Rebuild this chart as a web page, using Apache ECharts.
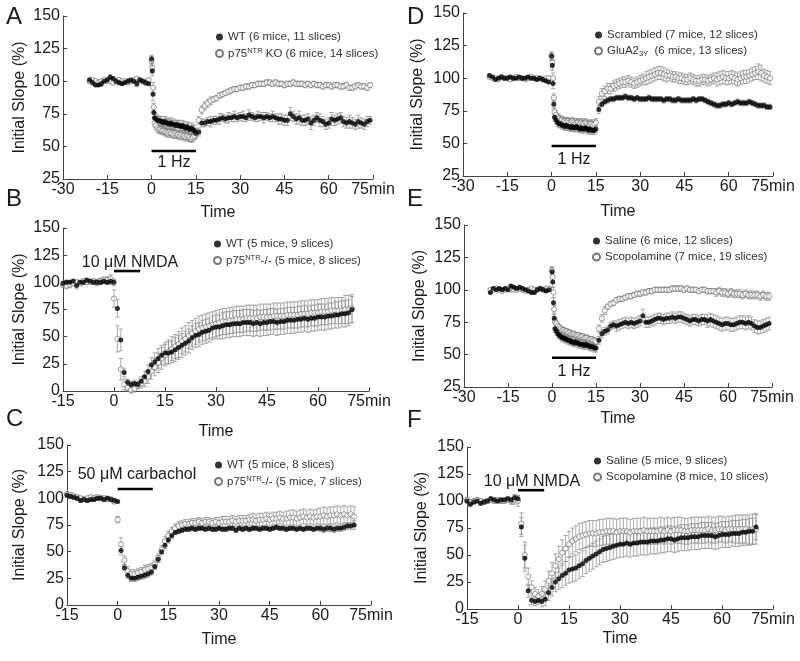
<!DOCTYPE html>
<html><head><meta charset="utf-8">
<script src="https://cdn.jsdelivr.net/npm/echarts@6/dist/echarts.min.js"></script>
<style>html,body{margin:0;padding:0;background:#fff}#c{width:800px;height:661px}</style>
</head><body><div id="c"></div><script>
// ---------- time axes (min) ----------
const tLFS = [-21,-20,-19,-18,-17,-16,-15,-14,-13,-12,-11,-10,-9,-8,-7,-6,-5,-4,-3,-2,-1,
 0,0.25,0.5,0.75,
 1,1.5,2,2.5,3,3.5,4,4.5,5,5.5,6,6.5,7,7.5,8,8.5,9,9.5,10,10.5,11,11.5,12,12.5,13,13.5,14,14.5,15,
 16,17,18,19,20,21,22,23,24,25,26,27,28,29,30,31,32,33,34,35,36,37,38,39,40,41,42,43,44,45,
 46,47,48,49,50,51,52,53,54,55,56,57,58,59,60,61,62,63,64,65,66,67,68,69,70,71,72,73,74];
const tDrug = [-15,-14,-13,-12,-11,-10,-9,-8,-7,-6,-5,-4,-3,-2,-1,
 0,1,2,3,4,5,6,7,8,9,10,11,12,13,14,15,16,17,18,19,20,21,22,23,24,25,26,27,28,29,30,
 31,32,33,34,35,36,37,38,39,40,41,42,43,44,45,46,47,48,49,50,51,52,53,54,55,56,57,58,59,60,
 61,62,63,64,65,66,67,68,69,70];

// ---------- Panel A ----------
const A_wt = [101,99,97,97,98,100,101,103,102,100,99,98,99,100,101,100,98,101,100,99,98,
 117,108,90,76,
 72,71,70,70,69,69,68,69,68,68,67,68,67,67,66,67,66,66,65,66,65,64,65,64,63,64,63,62,60,
 61,68,68,69,69,70,70,71,72,71, 72,72,73,72,73,73,72,74,73,72, 73,73,72,73,72,73,72,71,71,70,
 70,75,73,71,72,70,70,71,68,70, 72,70,69,67,68,71,70,71,72,69, 68,69,68,67,69,68,67,69,70];
const A_wt_e = [2,2,1,1,2,1,2,2,1,1,2,1,1,2,1,1,2,1,1,2,1,
 3,4,5,4,
 4,4,4,3,4,4,3,4,4,3,4,4,3,4,4,3,4,4,3,4,4,3,4,4,3,4,4,4,4,
 3,3,3,3,4,3,3,4,3,3, 4,3,4,3,3,4,3,4,3,3, 4,3,4,3,3,4,3,4,4,4,
 4,5,4,4,5,4,4,4,5,4, 4,5,4,4,4,5,4,4,4,4, 4,5,4,4,5,4,4,4,3];
const A_ko = [100,101,100,99,100,101,100,100,99,100,101,100,100,99,100,101,102,101,100,99,101,
 116,110,95,80,
 68,66,64,63,63,62,62,61,61,60,61,60,60,59,60,59,59,58,59,58,58,57,58,57,57,56,57,58,60,
 70,78,81,83,85,86,87,89,90,91, 92,93,94,94,95,95,96,96,97,97, 98,98,98,99,99,98,99,98,98,97,
 98,98,99,98,98,98,97,98,97,98, 97,97,96,97,97,96,97,97,96,96, 97,95,95,96,97,96,96,95,97];
const A_ko_e = [1,1,1,1,1,1,1,1,1,1,1,1,1,1,1,1,1,1,1,1,1,
 3,4,4,3,
 3,3,3,3,3,3,3,3,3,3,3,3,3,3,3,3,3,3,3,3,3,3,3,3,3,3,3,3,3,
 3,3,3,3,3,2,2,2,2,2, 2,2,2,2,2,2,2,2,2,2, 2,2,2,2,2,2,2,2,2,2,
 2,2,2,2,2,2,2,2,2,2, 2,2,2,2,2,2,2,2,2,2, 2,2,2,2,2,2,2,2,2];

// ---------- Panel D ----------
const D_scr = [102,101,99,100,101,100,100,101,100,100,101,100,100,101,100,100,99,100,99,98,97,
 117,110,96,80,
 70,68,66,65,65,64,64,63,64,63,63,62,63,62,62,63,62,61,62,61,61,62,61,60,61,60,60,60,61,
 76,80,82,83,84,84,85,85,85,86, 85,85,84,85,84,84,84,85,84,84, 84,84,83,84,84,83,83,84,83,83,
 83,83,84,83,84,84,83,82,81,80, 79,79,80,80,81,80,81,82,81,81, 81,82,81,80,79,79,79,78,78];
const D_scr_e = [1,1,1,1,1,1,1,1,1,1,1,1,1,1,1,1,1,1,1,1,1,
 3,4,4,3,
 3,3,3,3,3,3,3,3,3,3,3,3,3,3,3,3,3,3,3,3,3,3,3,3,3,3,3,3,3,
 3,2,2,2,2,2,2,2,2,2, 2,2,2,2,2,2,2,2,2,2, 2,2,2,2,2,2,2,2,2,2,
 2,2,2,2,2,2,2,2,2,2, 2,2,2,2,2,2,2,2,2,2, 2,2,2,2,2,2,2,2,2];
const D_glu = [101,100,100,99,101,100,100,99,100,101,100,100,99,100,101,100,100,100,99,100,100,
 117,112,100,85,
 74,72,70,69,68,68,67,67,66,67,66,66,67,66,65,66,66,65,66,65,65,66,65,64,65,65,64,65,66,
 82,88,90,92,92,94,95,96,97,97, 98,97,96,97,98,99,100,101,102,103, 104,104,103,102,102,101,101,100,100,99,
 99,100,99,98,98,99,99,98,99,100, 99,100,101,100,100,101,100,99,100,101, 101,102,103,104,105,104,102,101,100];
const D_glu_e = [1,1,1,1,1,1,1,1,1,1,1,1,1,1,1,1,1,1,1,1,1,
 3,4,4,3,
 3,3,3,3,3,3,3,3,3,3,3,3,3,3,3,3,3,3,3,3,3,3,3,3,3,3,3,3,3,
 4,4,4,4,4,4,4,4,4,4, 4,4,4,4,4,4,5,5,5,5, 5,5,5,5,4,4,4,4,4,4,
 4,4,4,4,4,4,4,4,4,4, 5,5,5,5,5,5,5,5,5,5, 5,5,5,5,6,6,5,5,5];

// ---------- Panel E ----------
const E_sal = [98,101,100,101,100,101,100,103,102,101,102,101,100,99,98,98,100,101,100,99,100,
 114,106,90,78,
 70,68,66,65,64,63,63,62,62,61,61,60,60,59,60,59,59,58,58,58,57,58,57,57,56,56,56,55,55,
 61,66,68,69,72,73,72,73,74,75, 74,75,74,75,76,80,75,75,76,77, 78,78,77,78,78,79,78,79,79,78,
 77,76,77,77,76,77,77,76,77,76, 75,74,73,74,74,73,73,74,75,75, 74,75,74,72,71,71,72,73,74];
const E_sal_e = [1,1,1,1,1,1,1,1,1,1,1,1,1,1,1,1,1,1,1,1,1,
 3,4,4,3,
 3,3,3,3,3,3,3,3,3,3,3,3,3,3,3,3,3,3,3,3,3,3,3,3,3,3,3,3,3,
 3,3,3,3,3,3,4,4,4,4, 4,4,4,4,4,5,4,4,4,4, 4,4,4,4,4,4,4,4,4,4,
 4,4,4,4,4,4,4,5,5,5, 5,5,5,5,5,5,5,5,5,5, 5,5,5,5,5,5,5,5,5];
const E_sco = [100,100,101,100,99,100,101,100,100,100,101,100,99,100,101,100,100,101,100,101,101,
 115,110,98,85,
 76,74,72,71,70,69,69,68,68,67,67,66,66,66,65,65,65,64,64,64,63,63,63,62,62,62,61,61,60,
 70,78,84,87,89,90,92,93,93,94, 95,95,96,97,97,98,98,99,99,100, 100,100,100,100,100,101,101,101,101,100,
 101,100,100,100,99,100,100,99,99,99, 98,99,98,98,97,98,97,97,97,96, 97,96,96,96,96,95,96,95,95];
const E_sco_e = [1,1,1,1,1,1,1,1,1,1,1,1,1,1,1,1,1,1,1,1,1,
 3,4,4,3,
 2,2,2,2,2,2,2,2,2,2,2,2,2,2,2,2,2,2,2,2,2,2,2,2,2,2,2,2,2,
 3,3,3,2,2,2,2,2,2,2, 2,2,2,2,2,2,2,2,2,2, 2,2,2,2,2,2,2,2,2,2,
 2,2,2,2,2,2,2,2,2,2, 3,3,3,3,3,3,3,3,3,3, 3,3,3,3,3,3,3,3,3];

// ---------- Panel B ----------
const B_wt = [99,100,100,101,97,100,100,102,101,100,100,100,101,100,101,
 100,76,47,17,8,6,7,6,9,13, 18,24,27,30,33,35,35,36,38,40, 42,44,46,49,51,52,54,55,56,58,
 59,59,60,61,61,62,62,62,63,63, 63,62,63,62,63,63,64,64,63,64, 64,65,65,65,66,66,67,66,67,67,
 68,68,68,69,69,70,70,71,71,72, 75];
const B_wt_e = [2,2,2,2,3,2,2,2,2,2,2,2,2,2,3,
 3,8,10,4,3,3,3,3,4,5, 6,7,8,9,9,10,10,10,11,11, 11,11,11,11,11,11,11,11,11,11,
 11,11,12,12,12,12,12,12,12,12, 12,12,12,12,12,12,12,12,12,12, 12,12,12,12,12,12,12,12,12,12,
 12,12,12,12,12,12,12,12,12,12, 12];
const B_ko = [98,97,98,99,100,99,101,100,100,101,100,101,102,102,103,
 85,48,20,6,3,1,2,5,7,9, 13,18,22,26,30,33,36,39,41,43, 46,48,51,53,55,57,58,59,60,61,
 62,63,64,64,65,65,66,66,66,67, 67,67,67,68,68,68,68,69,69,69, 69,70,70,70,70,71,71,71,72,72,
 72,73,73,73,74,74,74,74,75,75, 76];
const B_ko_e = [3,3,3,2,2,2,2,2,2,2,3,3,3,3,4,
 8,12,10,5,3,3,3,3,4,5, 6,7,8,9,10,10,11,11,11,12, 12,12,12,12,12,12,12,12,12,12,
 12,12,12,12,12,12,12,12,12,12, 12,12,12,12,12,12,12,12,12,12, 12,12,12,12,12,12,12,12,12,12,
 12,12,12,12,12,12,12,12,13,13, 13];

// ---------- Panel C ----------
const C_wt = [103,102,101,100,98,99,98,99,99,100,100,99,100,99,98,
 97,51,35,28,25,25,26,27,28,29, 31,36,43,50,56,61,65,68,69,70, 71,71,72,71,72,72,71,72,71,71,
 72,71,71,72,72,70,72,71,72,71, 72,72,71,72,72,71,72,73,72,72, 71,72,72,71,72,71,72,72,71,72,
 72,71,72,72,71,72,72,73,74,74, 75];
const C_wt_e = [2,2,2,2,2,2,2,2,2,2,2,2,2,2,2,
 1,4,3,3,3,3,3,3,3,3, 3,3,3,3,3,3,3,2,2,2, 2,2,2,2,2,2,2,2,2,2,
 2,2,2,2,2,2,2,2,2,2, 2,2,2,2,2,2,2,2,2,2, 2,2,2,2,2,2,2,2,2,2,
 3,3,3,3,3,3,3,3,3,3, 4];
const C_ko = [104,103,102,101,100,99,100,101,100,101,100,100,99,99,97,
 80,57,42,32,29,29,30,31,33,34, 35,38,44,52,60,65,69,72,74,75, 76,76,77,77,78,77,78,78,77,78,
 77,78,78,78,79,78,79,79,79,80, 80,79,80,80,81,80,81,81,82,81, 81,82,82,81,82,83,82,83,82,83,
 83,84,83,84,84,85,84,85,84,85, 83];
const C_ko_e = [2,2,2,2,2,2,2,2,2,2,2,2,2,2,2,
 3,6,4,4,4,4,4,4,4,4, 4,4,4,4,4,4,4,4,4,4, 4,4,4,4,4,4,4,4,4,4,
 5,5,5,5,5,5,5,5,5,5, 6,6,6,6,6,6,6,6,6,6, 7,7,7,7,7,7,7,7,7,7,
 8,8,8,8,8,8,8,8,8,8, 9];

// ---------- Panel F ----------
const F_sal = [100,97,99,100,98,99,100,102,101,100,101,101,102,101,103,
 102,76,47,17,8,7,8,7,9,15, 20,25,28,31,33,36,37,38,40,42, 45,47,49,51,53,55,56,57,58,59,
 60,60,61,60,61,61,62,62,62,63, 63,63,64,64,65,65,64,65,66,66, 66,67,67,67,68,68,68,68,67,68,
 69,69,69,70,70,70,71,71,72,72, 76];
const F_sal_e = [2,2,2,2,2,2,2,2,2,2,2,2,2,2,3,
 3,9,12,6,4,4,4,5,6,7, 8,9,10,11,11,12,12,12,12,12, 12,12,12,12,12,12,12,12,12,12,
 12,12,12,12,12,12,12,12,12,12, 12,12,12,12,12,12,12,12,12,12, 12,12,12,12,12,12,12,12,12,12,
 12,12,12,12,12,12,12,12,12,12, 12];
const F_sco = [101,99,100,101,100,99,100,101,100,101,100,100,101,100,101,
 100,79,50,30,20,14,12,14,18,26, 33,40,46,52,56,60,63,65,67,68, 69,70,70,70,71,71,72,72,72,71,
 72,72,72,71,72,72,72,73,72,72, 72,72,73,72,73,72,73,73,73,72, 72,73,73,73,73,73,74,73,73,74,
 74,73,74,74,74,74,74,74,73,74, 74];
const F_sco_e = [2,2,2,2,2,2,2,2,2,2,2,2,2,3,4,
 5,10,12,8,6,6,6,7,8,9, 10,11,12,12,12,12,12,12,12,12, 12,12,12,12,12,12,12,12,12,12,
 12,12,12,12,12,12,12,12,12,12, 12,12,12,12,12,12,12,12,12,12, 12,12,12,12,12,12,12,12,12,12,
 12,12,12,12,13,13,13,13,14,14, 14];

// ---------- names ----------
const A_names = ['WT (6 mice, 11 slices)', 'p75NTR KO (6 mice, 14 slices)'];
const B_names = ['WT (5 mice, 9 slices)', 'p75NTR-/- (5 mice, 8 slices)'];
const C_names = ['WT (5 mice, 8 slices)', 'p75NTR-/- (5 mice, 7 slices)'];
const D_names = ['Scrambled (7 mice, 12 slices)', 'GluA23Y  (6 mice, 13 slices)'];
const E_names = ['Saline (6 mice, 12 slices)', 'Scopolamine (7 mice, 19 slices)'];
const F_names = ['Saline (5 mice, 9 slices)', 'Scopolamine (8 mice, 10 slices)'];

const FONT = '"Liberation Sans", Arial, sans-serif';
const TXT = '#1a1a1a';
const AX = '#444';

const panels = [
 {L:'A', g:[63,16,310,163], xmin:-30, ymin:25, t:tLFS, s:[[A_wt,A_wt_e],[A_ko,A_ko_e]], n:A_names,
  yg:35, xg:26, lg:[210,26], lt:[15,17], bar:[0,15,46.5], bt:'1 Hz', btp:[174,163]},
 {L:'B', g:[63,228,306,163], xmin:-15, ymin:0, t:tDrug, s:[[B_wt,B_wt_e],[B_ko,B_ko_e]], n:B_names,
  yg:35, xg:33, lg:[208,233], lt:[15,199], bar:[0,7.7,110.4], bt:'10 \u03bcM NMDA', btp:[130,263]},
 {L:'C', g:[67,445,304,160], xmin:-15, ymin:0, t:tDrug, s:[[C_wt,C_wt_e],[C_ko,C_ko_e]], n:C_names,
  yg:39, xg:27, lg:[209,454], lt:[15,419], bar:[0,10.4,108.75], bt:'50 \u03bcM carbachol', btp:[137,475]},
 {L:'D', g:[463,13,310,163], xmin:-30, ymin:25, t:tLFS, s:[[D_scr,D_scr_e],[D_glu,D_glu_e]], n:D_names,
  yg:37, xg:28, lg:[589,24], lt:[416,17], bar:[0,15,48], bt:'1 Hz', btp:[574,160]},
 {L:'E', g:[464,225,308,162], xmin:-30, ymin:25, t:tLFS, s:[[E_sal,E_sal_e],[E_sco,E_sco_e]], n:E_names,
  yg:36, xg:24, lg:[587,230], lt:[416,199], bar:[0,15,47.6], bt:'1 Hz', btp:[574,372]},
 {L:'F', g:[467,447,306,162], xmin:-15, ymin:0, t:tDrug, s:[[F_sal,F_sal_e],[F_sco,F_sco_e]], n:F_names,
  yg:37, xg:22, lg:[588,450], lt:[416,420], bar:[0,7.7,110], bt:'10 \u03bcM NMDA', btp:[532,482]}
];

function errRender(params, api){
  const x = api.value(0), y = api.value(1), e = api.value(2);
  const hi = api.coord([x, y + e]), lo = api.coord([x, y - e]);
  const cx = hi[0], w = 2.2;
  const st = {stroke:'#8a8a8a', lineWidth:0.7};
  return {type:'group', children:[
    {type:'line', shape:{x1:cx, y1:hi[1], x2:cx, y2:lo[1]}, style:st},
    {type:'line', shape:{x1:cx-w, y1:hi[1], x2:cx+w, y2:hi[1]}, style:st},
    {type:'line', shape:{x1:cx-w, y1:lo[1], x2:cx+w, y2:lo[1]}, style:st}
  ]};
}
function barRender(params, api){
  const a = api.coord([api.value(0), api.value(2)]);
  const b = api.coord([api.value(1), api.value(2)]);
  return {type:'line', shape:{x1:a[0], y1:a[1], x2:b[0], y2:b[1]}, style:{stroke:'#000', lineWidth:2.6}};
}
function legendFmt(name){
  if (name.indexOf('p75NTR') === 0) return '{n|p75}{sup|NTR}{n|' + name.slice(6) + '}';
  if (name.indexOf('GluA23Y') === 0) return '{n|GluA2}{sub|3Y}{n|' + name.slice(7) + '}';
  return '{n|' + name + '}';
}

const option = {animation:false, backgroundColor:'#fff', grid:[], xAxis:[], yAxis:[], series:[], legend:[], graphic:[]};

panels.forEach((p, i) => {
  option.grid.push({left:p.g[0], top:p.g[1], width:p.g[2], height:p.g[3], containLabel:false});
  option.xAxis.push({type:'value', gridIndex:i, min:p.xmin, max:75, interval:15,
    name:'Time', nameLocation:'middle', nameGap:p.xg,
    nameTextStyle:{fontSize:16, color:TXT, fontFamily:FONT},
    axisLine:{onZero:false, lineStyle:{color:AX, width:1}},
    axisTick:{inside:true, length:4, lineStyle:{color:AX}},
    axisLabel:{fontSize:16, color:TXT, fontFamily:FONT, margin:3,
      formatter: v => v === 75 ? '75min' : String(v)},
    splitLine:{show:false}});
  option.yAxis.push({type:'value', gridIndex:i, min:p.ymin, max:150, interval:25,
    name:'Initial Slope (%)', nameLocation:'middle', nameGap:p.yg, nameRotate:90,
    nameTextStyle:{fontSize:16, color:TXT, fontFamily:FONT},
    axisLine:{show:true, onZero:false, lineStyle:{color:AX, width:1}},
    axisTick:{show:true, inside:true, length:4, lineStyle:{color:AX}},
    axisLabel:{fontSize:16, color:TXT, fontFamily:FONT, margin:3},
    splitLine:{show:false}});
  p.s.forEach((s, k) => {
    option.series.push({type:'custom', xAxisIndex:i, yAxisIndex:i, z:1, silent:true,
      renderItem:errRender, encode:{x:0, y:1},
      data:p.t.map((tt, j) => [tt, s[0][j], s[1][j]])});
  });
  [1, 0].forEach(k => {
    const s = p.s[k];
    option.series.push({type:'scatter', name:p.n[k], xAxisIndex:i, yAxisIndex:i, z:2 + (k===0?1:0),
      symbol:'circle', symbolSize: k === 0 ? 5 : 5.2,
      itemStyle: k === 0 ? {color:'#000', borderWidth:0}
                         : {color:'#fff', borderColor:'#555', borderWidth:0.7},
      data:p.t.map((tt, j) => [tt, s[0][j]])});
  });
  option.series.push({type:'custom', xAxisIndex:i, yAxisIndex:i, z:4, silent:true,
    renderItem:barRender, encode:{x:[0,1], y:2}, data:[p.bar]});
  option.legend.push({left:p.lg[0], top:p.lg[1], orient:'vertical', itemWidth:7, itemHeight:7,
    itemGap:4, selectedMode:false, data:[p.n[0], p.n[1]], formatter:legendFmt,
    textStyle:{fontFamily:FONT, fontSize:11.5, color:'#333',
      rich:{n:{fontFamily:FONT, fontSize:11.5, color:'#333'},
            sup:{fontFamily:FONT, fontSize:7.5, color:'#333', verticalAlign:'top', padding:[0,0,5,0]},
            sub:{fontFamily:FONT, fontSize:7.5, color:'#333', verticalAlign:'bottom', padding:[6,0,0,0]}}}});
  option.graphic.push({type:'text', left:p.lt[0]-9, top:p.lt[1]-12,
    style:{text:p.L, fontSize:24, fontFamily:FONT, fill:TXT}});
  option.graphic.push({type:'text', x:p.btp[0], y:p.btp[1],
    style:{text:p.bt, fontSize:16, fontFamily:FONT, fill:TXT, align:'center', verticalAlign:'middle'}});
});

const chart = echarts.init(document.getElementById('c'), null, {renderer:'canvas'});
chart.setOption(option);
</script></body></html>
